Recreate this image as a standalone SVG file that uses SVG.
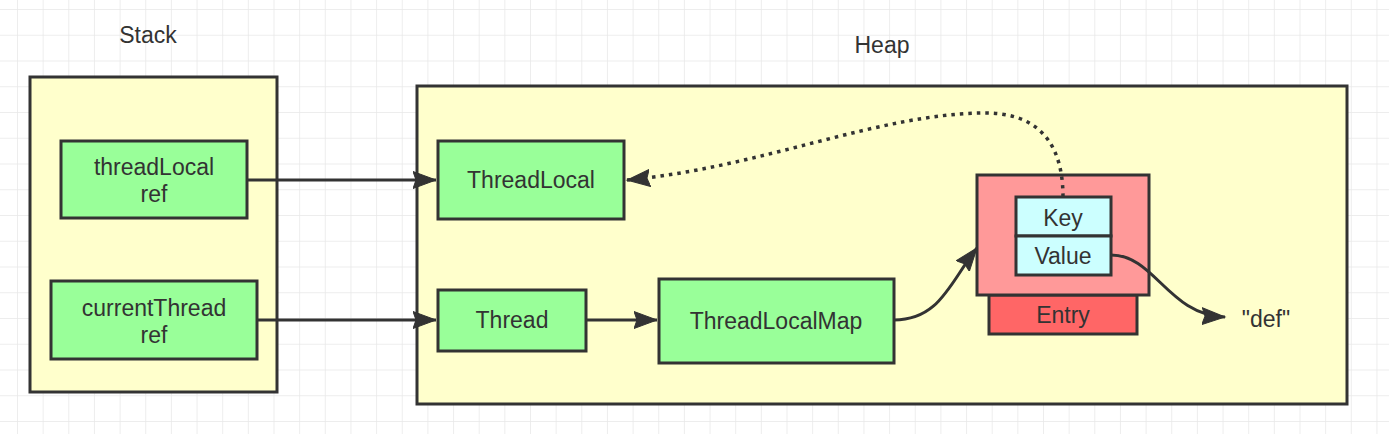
<svg xmlns="http://www.w3.org/2000/svg" width="1389" height="434" viewBox="0 0 1389 434">
  <style>
    .box { stroke: #333333; stroke-width: 3; }
    .container { fill: #ffffcc; }
    .green { fill: #99ff99; }
    .pink { fill: #ff9999; }
    .red { fill: #ff6666; }
    .cyan { fill: #ccffff; }
    text { font-family: "Liberation Sans", Arial, sans-serif; font-size: 23px; fill: #333333; text-anchor: middle; }
    .edge { fill: none; stroke: #333333; stroke-width: 3; }
    .dotted { stroke-width: 3.5; stroke-dasharray: 3.5 5; }
  </style>
  <defs>
    <pattern id="grid" x="17" y="9" width="25.65" height="25.75" patternUnits="userSpaceOnUse">
      <path d="M0,0 V25.75 M0,0 H25.65" fill="none" stroke="#e8e8e8" stroke-width="1.5"/>
    </pattern>
    <marker id="arrow" markerUnits="userSpaceOnUse" markerWidth="26" markerHeight="20" refX="23" refY="9" orient="auto" viewBox="0 0 26 20">
      <path d="M0,0.5 L23,9 L0,17.5 L3,9 z" fill="#333333" stroke="#333333" stroke-width="1" stroke-linejoin="miter"/>
    </marker>
  </defs>
  <rect width="1389" height="434" fill="#ffffff"/>
  <rect width="1389" height="434" fill="url(#grid)"/>

  <g id="stack">
    <rect class="box container" x="30" y="77" width="247" height="315"/>
    <text x="148" y="43">Stack</text>
  </g>
  <g id="heap">
    <rect class="box container" x="417" y="86" width="930" height="318"/>
    <text x="882" y="53">Heap</text>
  </g>

  <g id="threadLocalRef">
    <rect class="box green" x="61" y="141" width="186" height="77"/>
    <text x="154" y="175">threadLocal</text>
    <text x="154" y="202">ref</text>
  </g>
  <g id="currentThreadRef">
    <rect class="box green" x="51" y="281" width="206" height="78"/>
    <text x="154" y="316">currentThread</text>
    <text x="154" y="343">ref</text>
  </g>
  <g id="threadLocal">
    <rect class="box green" x="438" y="141" width="186" height="78"/>
    <text x="531" y="188">ThreadLocal</text>
  </g>
  <g id="thread">
    <rect class="box green" x="438" y="290" width="148" height="61"/>
    <text x="512" y="328">Thread</text>
  </g>
  <g id="threadLocalMap">
    <rect class="box green" x="659" y="279" width="235" height="84"/>
    <text x="776" y="329">ThreadLocalMap</text>
  </g>
  <g id="entry">
    <rect class="box red" x="989" y="295" width="148" height="39"/>
    <rect class="box pink" x="977" y="175" width="172" height="120"/>
    <text x="1063" y="323">Entry</text>
  </g>
  <g id="key">
    <rect class="box cyan" x="1016" y="197" width="95" height="39"/>
    <text x="1063" y="226">Key</text>
  </g>
  <g id="value">
    <rect class="box cyan" x="1016" y="236" width="95" height="39"/>
    <text x="1063" y="264">Value</text>
  </g>
  <g id="def">
    <text x="1266" y="327">"def"</text>
  </g>

  <g id="connectors">
    <path class="edge" d="M247,180 H436" marker-end="url(#arrow)"/>
    <path class="edge" d="M257,320 H436" marker-end="url(#arrow)"/>
    <path class="edge" d="M586,320 H657" marker-end="url(#arrow)"/>
    <path class="edge" d="M894,320 C940,320 950,282 977,248" marker-end="url(#arrow)"/>
    <path class="edge" d="M1111,255 C1155,255 1168,315 1225,317" marker-end="url(#arrow)"/>
    <path class="edge dotted" d="M1063,197 C1063,130 1025,113 985,113 C880,113 760,168 627,180" marker-end="url(#arrow)"/>
  </g>
</svg>
